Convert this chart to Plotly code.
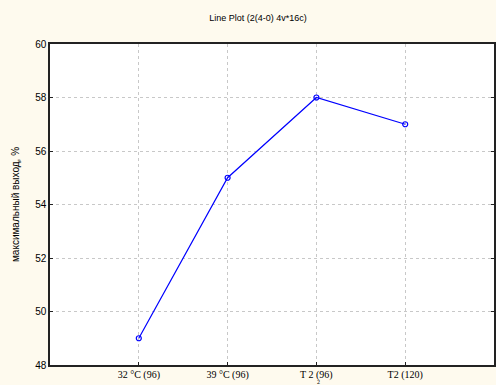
import plotly.graph_objects as go

# Categories and values of the line plot
categories = ["32 °C (96)", "39 °C (96)", "T 2 (96)", "T2 (120)"]
yield_max = [49, 55, 58, 57]
y_ticks = [48, 50, 52, 54, 56, 58, 60]

fig = go.Figure()
fig.add_trace(go.Scatter(
    x=categories,
    y=yield_max,
    mode="lines+markers",
    line=dict(color="#0000ff", width=1.2),
    marker=dict(symbol="circle-open", size=5, color="#0000ff", line=dict(width=1.2)),
    showlegend=False,
))

fig.update_layout(
    width=496,
    height=385,
    margin=dict(l=50, r=0, t=44, b=20),
    paper_bgcolor="#fefaee",
    plot_bgcolor="#ffffff",
    title=dict(
        text="Line Plot (2(4-0) 4v*16c)",
        x=258 / 496, xanchor="center",
        y=1 - 18 / 385, yanchor="middle",
        font=dict(family="Liberation Sans, Arial", size=9, color="#000000"),
    ),
    font=dict(family="Liberation Sans, Arial", color="#000000"),
)

fig.update_xaxes(
    type="category",
    range=[-1, 4],
    showgrid=True,
    gridcolor="#c8c8c8",
    griddash="dot",
    gridwidth=1,
    showline=True,
    linecolor="#222222",
    linewidth=1.5,
    mirror=True,
    ticks="inside",
    ticklen=3,
    tickcolor="#222222",
    ticklabelstandoff=-1,
    tickfont=dict(family="Liberation Serif, Times New Roman", size=10, color="#000000"),
    zeroline=False,
)

fig.update_yaxes(
    range=[48, 60],
    tickvals=y_ticks,
    showgrid=True,
    gridcolor="#c8c8c8",
    griddash="dot",
    gridwidth=1,
    showline=True,
    linecolor="#222222",
    linewidth=1.5,
    mirror="ticks",
    ticks="inside",
    ticklen=3,
    tickcolor="#222222",
    tickfont=dict(family="Liberation Sans, Arial", size=10, color="#000000"),
    title=dict(text="максимальный выход, %", font=dict(family="Liberation Sans, Arial", size=10), standoff=14),
    zeroline=False,
)

# small subscript digit under the third category label
fig.add_annotation(
    x=categories[2], y=0, xref="x", yref="paper",
    text="2", showarrow=False,
    xshift=2, yshift=-22,
    font=dict(family="Liberation Serif, Times New Roman", size=6, color="#000000"),
)

fig.write_html("out.html")
